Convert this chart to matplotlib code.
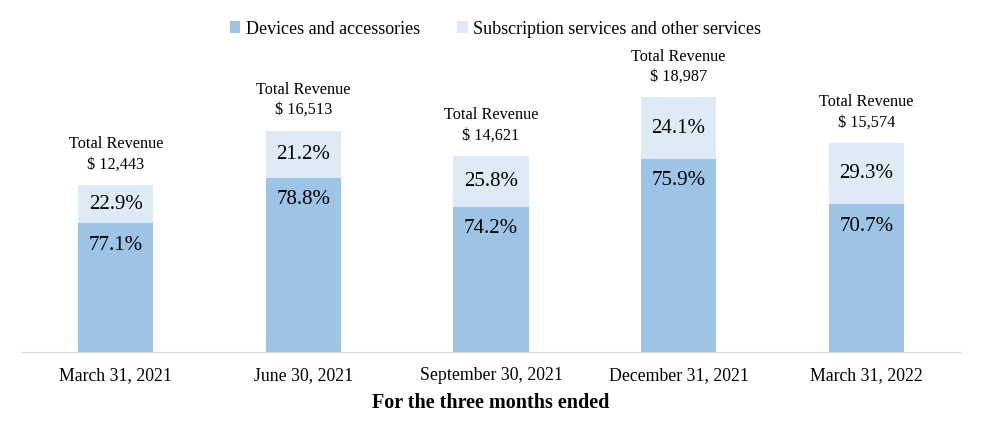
import matplotlib.pyplot as plt

periods = ["March 31, 2021", "June 30, 2021", "September 30, 2021",
           "December 31, 2021", "March 31, 2022"]
total_revenue = [12443, 16513, 14621, 18987, 15574]
devices_pct = [77.1, 78.8, 74.2, 75.9, 70.7]
services_pct = [22.9, 21.2, 25.8, 24.1, 29.3]

dark = "#9DC3E6"
light = "#DEEBF7"

plt.rcParams["font.family"] = ["Liberation Serif", "DejaVu Serif"]

fig = plt.figure(figsize=(9.81, 4.32), dpi=100)
ax = fig.add_axes([0.0224, 0.185, 0.9562, 0.722])

x = list(range(len(periods)))
dev_vals = [t * p / 100 for t, p in zip(total_revenue, devices_pct)]
srv_vals = [t * p / 100 for t, p in zip(total_revenue, services_pct)]

b1 = ax.bar(x, dev_vals, width=0.4, color=dark, label="Devices and accessories")
b2 = ax.bar(x, srv_vals, width=0.4, bottom=dev_vals, color=light,
            label="Subscription services and other services")

for i in x:
    ax.annotate(f"{devices_pct[i]:.1f}%", (i, dev_vals[i]), xytext=(0, -9),
                textcoords="offset points", ha="center", va="top", fontsize=15)
    ax.text(i, dev_vals[i] + srv_vals[i] / 2, f"{services_pct[i]:.1f}%",
            ha="center", va="center", fontsize=15)
    ax.annotate(f"Total Revenue\n$ {total_revenue[i]:,}", (i, total_revenue[i]),
                xytext=(0, 9), textcoords="offset points", ha="center",
                va="bottom", fontsize=11.7, linespacing=1.35)

ax.set_xlim(-0.5, 4.5)
ax.set_ylim(0, 23250)
ax.set_xticks(x)
ax.set_xticklabels(periods, fontsize=12.8)
ax.tick_params(axis="x", length=0, pad=11)
ax.set_yticks([])
for s in ["top", "right", "left"]:
    ax.spines[s].set_visible(False)
ax.spines["bottom"].set_color("#D9D9D9")
ax.set_xlabel("For the three months ended", fontsize=14.5, fontweight="bold",
              labelpad=6)

fig.legend(handles=[b1, b2], loc="upper center", bbox_to_anchor=(0.505, 0.99),
           ncol=2, frameon=False, fontsize=13, handlelength=0.6,
           handleheight=0.6, handletextpad=0.3, columnspacing=2.05)

fig.savefig("out.png", dpi=100)
